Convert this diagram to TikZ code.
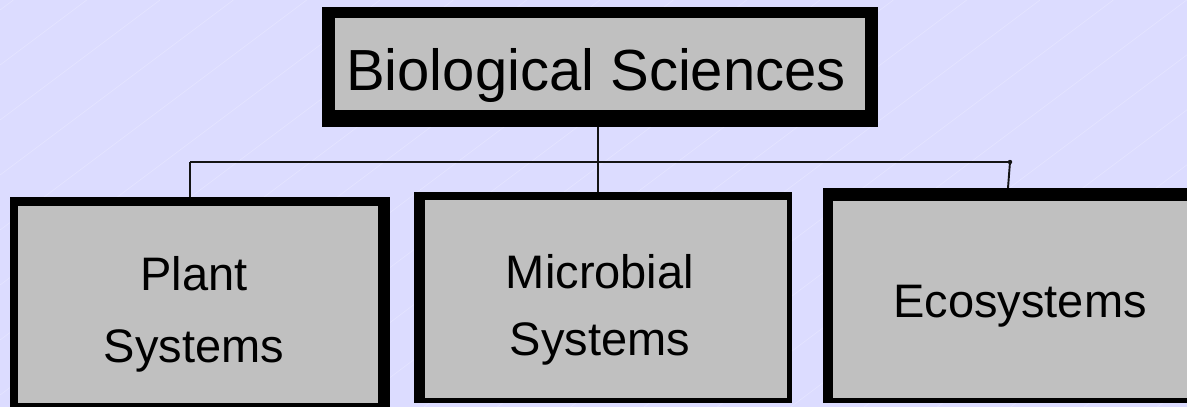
\documentclass[tikz,border=0pt]{standalone}
\usepackage{fontspec}
\setmainfont{Liberation Sans}
\definecolor{bgcol}{RGB}{220,220,255}
\definecolor{boxgray}{RGB}{192,192,192}
\definecolor{linecol}{RGB}{20,20,20}
\begin{document}
\begin{tikzpicture}[x=1pt,y=-1pt,
  frame/.style={rectangle,fill=black,inner sep=0pt,outer sep=0pt},
  panel/.style={rectangle,fill=boxgray,inner sep=0pt,outer sep=0pt},
  toptext/.style={anchor=base,inner sep=0pt,font=\fontsize{58}{70}\selectfont},
  subtext/.style={anchor=base,inner sep=0pt},
  conn/.style={draw=linecol,line width=1.9pt},
  texture/.style={draw=white,opacity=0.25,line width=0.6pt}]
\fill[bgcol] (0,0) rectangle (1187,407);
\useasboundingbox (0,0) rectangle (1187,407);
\clip (0,0) rectangle (1187,407);
% faint diagonal background texture
\foreach \c in {10,65,...,1300}{
  \draw[texture] (0,\c) -- ({\c/0.75},0);
}
% top box
\node[frame,minimum width=556,minimum height=120] (top) at (600,67) {};
\node[panel,minimum width=530,minimum height=92] (topin) at (600,64) {};
\node[toptext] (toplbl) at (596,90) {Biological Sciences};
% plant box
\node[frame,minimum width=380,minimum height=210] (plant) at (200,302) {};
\node[panel,minimum width=360,minimum height=197] (plantin) at (198,304.5) {};
\node[subtext,font=\fontsize{47}{72}\selectfont] (plantlbl) at (194,290)
  {\begin{tabular}[t]{@{}c@{}}Plant\\Systems\end{tabular}};
% microbial box
\node[frame,minimum width=378,minimum height=211] (micro) at (603,297.5) {};
\node[panel,minimum width=362,minimum height=198] (microin) at (606,299) {};
\node[subtext,font=\fontsize{47}{67}\selectfont] (microlbl) at (600,288)
  {\begin{tabular}[t]{@{}c@{}}Microbial\\Systems\end{tabular}};
% ecosystems box
\node[frame,minimum width=377,minimum height=215] (eco) at (1011.5,295.5) {};
\node[panel,minimum width=362,minimum height=197] (ecoin) at (1014,299.5) {};
\node[subtext,font=\fontsize{47}{56}\selectfont] (ecolbl) at (1020,317) {Ecosystems};
% connectors
\coordinate (jl) at (190,162);
\coordinate (jm) at (598,162);
\coordinate (jr) at (1010,162);
\coordinate (ecotop) at (1008,188);
\draw[conn] (jm |- top.south) -- (jm) -- (jm |- micro.north);
\draw[conn] (jl) -- (jr);
\draw[conn] (jl) -- (jl |- plant.north);
\draw[conn] (jr) -- (ecotop);
\fill[linecol] (jr) circle (2.2);
\end{tikzpicture}
\end{document}
